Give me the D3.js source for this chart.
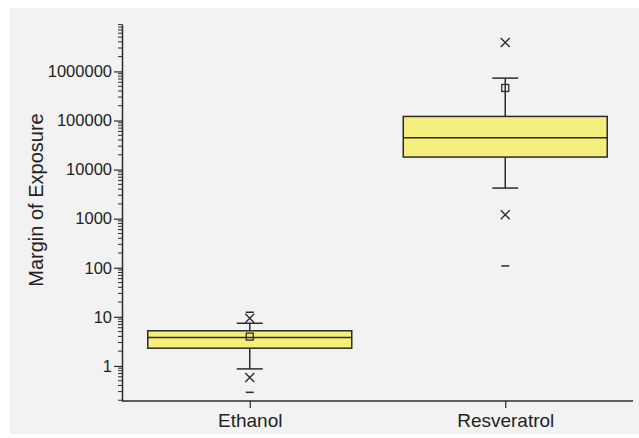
<!DOCTYPE html>
<html>
<head>
<meta charset="utf-8">
<script src="https://cdn.jsdelivr.net/npm/d3@7"></script>
<style>
  body { margin: 0; background: #fff; }
  text { font-family: "Liberation Sans", Arial, sans-serif; fill: #222; }
</style>
</head>
<body>
<script>
// chart values (log scale)
const categories = ['Ethanol', 'Resveratrol'];
const q1Vals     = [2.3, 1.8e4];
const medianVals = [3.8, 4.45e4];
const q3Vals     = [5.2, 1.21e5];
const meanVals   = [3.96, 4.6e5];
const whiskLow   = [0.87, 4.2e3];
const whiskHigh  = [7.4, 7.3e5];
const p1Vals     = [0.58, 1.2e3];   // x marks
const p99Vals    = [9.4, 3.9e6];
const minVals    = [0.29, 109];     // dashes
const maxVals    = [12.4, null];
const yTicks     = [1, 10, 100, 1000, 10000, 100000, 1000000];

const W = 639, H = 438;
const M = { left: 122, right: 6, top: 24, bottom: 37 };

const svg = d3.select('body').append('svg')
    .attr('width', W)
    .attr('height', H);

// grey panel
svg.append('rect')
    .attr('x', 10).attr('y', 8)
    .attr('width', W - 10).attr('height', H - 12)
    .attr('fill', '#f2f2f2');

const x = d3.scalePoint()
    .domain(categories)
    .range([M.left, W - M.right])
    .padding(0.5);

const y = d3.scaleLog()
    .domain([0.193, 9.25e6])
    .range([H - M.bottom, M.top]);

const boxW = 204, capW = 26;
const ink = '#2b2b2b';

const data = categories.map((c, i) => ({
    cat: c,
    q1: q1Vals[i], med: medianVals[i], q3: q3Vals[i], mean: meanVals[i],
    lo: whiskLow[i], hi: whiskHigh[i],
    p1: p1Vals[i], p99: p99Vals[i],
    min: minVals[i], max: maxVals[i]
}));

// minor ticks
const minor = [];
for (let e = -1; e <= 6; e++) {
    for (let k = 2; k <= 9; k++) {
        const v = k * Math.pow(10, e);
        if (v >= y.domain()[0] && v <= y.domain()[1]) minor.push(v);
    }
}
const yMinor = svg.append('g')
    .attr('transform', `translate(${M.left},0)`);
yMinor.selectAll('line').data(minor).join('line')
    .attr('x1', -4).attr('x2', 0)
    .attr('y1', d => y(d)).attr('y2', d => y(d))
    .attr('stroke', ink).attr('stroke-width', 1);

const yAxis = svg.append('g')
    .attr('transform', `translate(${M.left},0)`)
    .call(d3.axisLeft(y).tickValues(yTicks).tickFormat(d3.format('d')).tickSize(8).tickPadding(2).tickSizeOuter(0));
yAxis.select('.domain').attr('stroke', ink).attr('stroke-width', 1.5);
yAxis.selectAll('.tick line').attr('stroke', ink).attr('stroke-width', 1.2);
yAxis.selectAll('.tick text').style('font-size', '16.5px').attr('fill', '#222');

const xAxis = svg.append('g')
    .attr('transform', `translate(0,${H - M.bottom})`)
    .call(d3.axisBottom(x).tickSize(7).tickPadding(6).tickSizeOuter(0));
xAxis.select('.domain').attr('stroke', ink).attr('stroke-width', 1.5)
    .attr('d', `M${M.left},0H${W - M.right}`);
xAxis.selectAll('.tick line').attr('stroke', ink).attr('stroke-width', 1.2);
xAxis.selectAll('.tick text').style('font-size', '19px').attr('fill', '#222');

svg.append('text')
    .attr('transform', `translate(43,200) rotate(-90)`)
    .attr('text-anchor', 'middle')
    .style('font-size', '20px')
    .text('Margin of Exposure');

const g = svg.append('g');
const box = g.selectAll('g.box').data(data).join('g').attr('class', 'box');

// whiskers
box.append('line')
    .attr('x1', d => x(d.cat)).attr('x2', d => x(d.cat))
    .attr('y1', d => y(d.lo)).attr('y2', d => y(d.hi))
    .attr('stroke', ink).attr('stroke-width', 1.5);
box.selectAll('line.cap').data(d => [d.lo, d.hi].map(v => ({ cat: d.cat, v }))).join('line')
    .attr('class', 'cap')
    .attr('x1', d => x(d.cat) - capW / 2).attr('x2', d => x(d.cat) + capW / 2)
    .attr('y1', d => y(d.v)).attr('y2', d => y(d.v))
    .attr('stroke', ink).attr('stroke-width', 1.5);

// box
box.append('rect')
    .attr('x', d => x(d.cat) - boxW / 2)
    .attr('width', boxW)
    .attr('y', d => y(d.q3))
    .attr('height', d => y(d.q1) - y(d.q3))
    .attr('fill', '#f4ef7c')
    .attr('stroke', ink).attr('stroke-width', 1.5);
box.append('line')
    .attr('x1', d => x(d.cat) - boxW / 2).attr('x2', d => x(d.cat) + boxW / 2)
    .attr('y1', d => y(d.med)).attr('y2', d => y(d.med))
    .attr('stroke', ink).attr('stroke-width', 1.5);

// mean square
box.append('rect')
    .attr('x', d => x(d.cat) - 3.5).attr('y', d => y(d.mean) - 3.5)
    .attr('width', 7).attr('height', 7)
    .attr('fill', 'none').attr('stroke', ink).attr('stroke-width', 1.3);

// 1% / 99% crosses
const crosses = data.flatMap(d => [d.p1, d.p99].map(v => ({ cat: d.cat, v })));
g.selectAll('path.cross').data(crosses).join('path')
    .attr('class', 'cross')
    .attr('d', d => {
        const cx = x(d.cat), cy = y(d.v), r = 4.5;
        return `M${cx - r},${cy - r}L${cx + r},${cy + r}M${cx - r},${cy + r}L${cx + r},${cy - r}`;
    })
    .attr('stroke', ink).attr('stroke-width', 1.4).attr('fill', 'none');

// min / max dashes
const dashes = data.flatMap(d => [d.min, d.max].filter(v => v != null).map(v => ({ cat: d.cat, v })));
g.selectAll('line.dash').data(dashes).join('line')
    .attr('class', 'dash')
    .attr('x1', d => x(d.cat) - 4).attr('x2', d => x(d.cat) + 4)
    .attr('y1', d => y(d.v)).attr('y2', d => y(d.v))
    .attr('stroke', ink).attr('stroke-width', 1.5);
</script>
</body>
</html>
